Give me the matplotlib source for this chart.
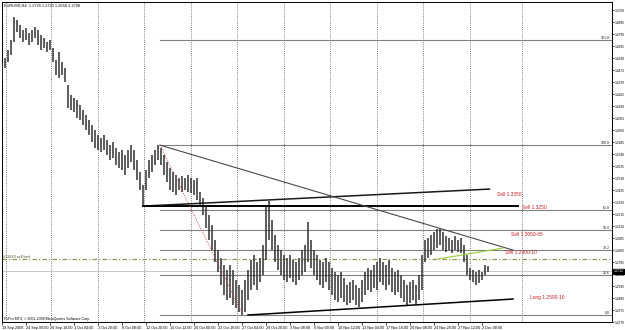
# EURUSD H4 chart with fib levels and trade notes (MT4 style)
import numpy as np
import matplotlib.pyplot as plt
import matplotlib.transforms as mtransforms

plt.rcParams['font.family'] = ['Liberation Sans', 'DejaVu Sans']

# H4 bars, one entry per two bars
highs = [1.4536, 1.4579, 1.4649, 1.4737, 1.4938, 1.4912, 1.4868, 1.4824, 1.4842, 1.4798,
         1.4824, 1.4851, 1.4824, 1.4781, 1.4754, 1.4719, 1.4737, 1.4667, 1.4562, 1.4632,
         1.4544, 1.4492, 1.4343, 1.4256, 1.4229, 1.4212, 1.4168, 1.4124, 1.4081, 1.4037,
         1.3993, 1.3949, 1.3906, 1.3879, 1.3906, 1.3862, 1.3818, 1.3844, 1.3792, 1.3757,
         1.3774, 1.3731, 1.3774, 1.3818, 1.3774, 1.3687, 1.3582, 1.3468, 1.3599, 1.3687,
         1.3731, 1.3774, 1.3818, 1.3792, 1.3731, 1.3669, 1.3617, 1.3582, 1.3556, 1.3529,
         1.3547, 1.3529, 1.3556, 1.3529, 1.3512, 1.3529, 1.3407, 1.3354, 1.3284, 1.3206,
         1.3118, 1.2987, 1.2899, 1.2829, 1.2768, 1.2724, 1.2768, 1.2724, 1.2637, 1.2593,
         1.2549, 1.2637, 1.2724, 1.2812, 1.2856, 1.2794, 1.2829, 1.2943, 1.3293, 1.3328,
         1.3162, 1.3031, 1.2943, 1.2899, 1.2856, 1.2829, 1.2856, 1.2812, 1.2794, 1.2829,
         1.2899, 1.2943, 1.3144, 1.2987, 1.2899, 1.2856, 1.2812, 1.2794, 1.2829, 1.2794,
         1.2742, 1.2707, 1.2681, 1.2707, 1.2654, 1.2593, 1.2619, 1.2637, 1.2593, 1.2567,
         1.2637, 1.2707, 1.2742, 1.2724, 1.2768, 1.2794, 1.2829, 1.2794, 1.2768, 1.2812,
         1.2742, 1.2707, 1.2724, 1.2681, 1.2637, 1.2593, 1.2619, 1.2637, 1.2593, 1.2681,
         1.2856, 1.2987, 1.3004, 1.3031, 1.3057, 1.3083, 1.3092, 1.3057, 1.3022, 1.3004,
         1.2987, 1.3022, 1.2987, 1.3004, 1.2943, 1.2856, 1.2742, 1.2724, 1.2707, 1.2724,
         1.2707, 1.2768, 1.2759]
lows = [1.4387, 1.4492, 1.4544, 1.4606, 1.4719, 1.4807, 1.4754, 1.4719, 1.4737, 1.4693,
        1.4719, 1.4754, 1.4693, 1.4649, 1.4667, 1.4632, 1.4649, 1.4544, 1.4431, 1.4404,
        1.4431, 1.4369, 1.4142, 1.4124, 1.4107, 1.4054, 1.4037, 1.3993, 1.3949, 1.3906,
        1.3844, 1.3792, 1.3774, 1.3757, 1.3774, 1.3731, 1.3687, 1.3704, 1.3643, 1.3617,
        1.3599, 1.3556, 1.3617, 1.3669, 1.3599, 1.3512, 1.3424, 1.3284, 1.3424, 1.3529,
        1.3582, 1.3643, 1.3687, 1.3643, 1.3556, 1.3494, 1.3424, 1.3407, 1.3381, 1.3424,
        1.3407, 1.3424, 1.3407, 1.3398, 1.3381, 1.3337, 1.3293, 1.3206, 1.3092, 1.2987,
        1.2899, 1.2794, 1.2707, 1.2593, 1.2506, 1.2462, 1.2479, 1.2418, 1.2392, 1.2357,
        1.2331, 1.2357, 1.2462, 1.2549, 1.2593, 1.2549, 1.2619, 1.2681, 1.2812, 1.2987,
        1.2899, 1.2794, 1.2724, 1.2681, 1.2637, 1.2619, 1.2654, 1.2619, 1.2593, 1.2637,
        1.2681, 1.2707, 1.2794, 1.2742, 1.2681, 1.2637, 1.2593, 1.2567, 1.2619, 1.2549,
        1.2506, 1.2462, 1.2444, 1.2479, 1.2444, 1.2418, 1.2436, 1.2462, 1.2418, 1.2401,
        1.2444, 1.2506, 1.2549, 1.2532, 1.2567, 1.2549, 1.2619, 1.2593, 1.2549, 1.2593,
        1.2532, 1.2506, 1.2532, 1.2479, 1.2444, 1.2418, 1.2436, 1.2462, 1.2418, 1.2462,
        1.2549, 1.2794, 1.2829, 1.2856, 1.2899, 1.2917, 1.2943, 1.2899, 1.2882, 1.2899,
        1.2873, 1.2899, 1.2882, 1.2873, 1.2794, 1.2681, 1.2637, 1.2619, 1.2593, 1.2611,
        1.2637, 1.2681, 1.2707]

# time axis (bar index -> label)
date_bars = [0, 16, 32, 48, 64, 80, 96, 112, 128, 144, 160, 176, 192, 208, 224, 240,
             256, 272, 288, 304, 320]
date_labels = ['19 Sep 2008', '24 Sep 00:00', '26 Sep 16:00', '1 Oct 04:00', '3 Oct 20:00',
               '8 Oct 08:00', '12 Oct 20:00', '15 Oct 12:00', '20 Oct 00:00', '22 Oct 16:00',
               '27 Oct 04:00', '29 Oct 20:00', '3 Nov 08:00', '6 Nov 00:00', '10 Nov 12:00',
               '13 Nov 04:00', '17 Nov 16:00', '20 Nov 08:00', '24 Nov 20:00', '27 Nov 12:00',
               '2 Dec 00:00']
week_bars = [4, 34, 65, 96, 127, 158, 189, 220, 251, 282, 313, 348]

price_ticks = [1.2270, 1.2375, 1.2480, 1.2585, 1.2690, 1.2795, 1.2900, 1.3005, 1.3110,
               1.3215, 1.3320, 1.3425, 1.3530, 1.3635, 1.3740, 1.3845, 1.3950, 1.4055,
               1.4160, 1.4265, 1.4370, 1.4475, 1.4580, 1.4685, 1.4790, 1.4895, 1.5000]

# fibonacci retracement (low -> high)
fib_low, fib_high = 1.2331, 1.3818
fib_levels = [0.0, 23.6, 38.2, 50.0, 61.8, 100.0, 161.8]
fib_start = 105.3

bid = 1.2712
order_price = 1.2820
order_label = '#12820 sell limit'

# hand drawn objects: (bar, price) pairs
sell_trend = [(94, 1.3284), (325, 1.3433)]
sell_level = [(94, 1.3284), (344, 1.3284)]
down_trend = [(105.3, 1.3818), (340.7, 1.2899)]
fib_base = [(105.3, 1.3818), (160.7, 1.2331)]
long_trend = [(164, 1.2331), (340.7, 1.2471)]
green_line = [(290.7, 1.2821), (334, 1.2917)]

notes = ['Sell 1.3350', 'Sell 1.3250', 'Sell 1.3050-65', 'Sell 1.2900-10', 'Long 1.2500-10']
note_bars = [330, 346.7, 339.3, 335.3, 352]
note_prices = [1.3390, 1.3271, 1.3040, 1.2874, 1.2488]

XMAX = 406.7

fig = plt.figure(figsize=(6.25, 3.3), dpi=100)
ax = fig.add_axes([2 / 625, 8 / 330, 610 / 625, 320 / 330])
ax.set_xlim(0, XMAX)
ax.set_ylim(1.2270, 1.5070)

# week separators
for b in week_bars:
    ax.axvline(b - 1, color='#555555', ls=(0, (1, 1.6)), lw=0.6, zorder=1)

# fib levels
for lvl in fib_levels:
    p = fib_low + lvl / 100 * (fib_high - fib_low)
    ax.plot([fib_start, XMAX], [p, p], color='#808080', lw=0.8, zorder=2)
    ax.text(XMAX - 1.2, p + 0.0003, f'{lvl:.1f}', ha='right', va='bottom',
            fontsize=2.6, color='#202020')

# bid line and order line
ax.axhline(bid, color='#c8c8c8', lw=0.7, zorder=1)
ax.axhline(order_price, color='#8c8c3c', ls=(0, (4, 2, 1, 2)), lw=0.8, zorder=2)
ax.text(0.6, order_price + 0.0004, order_label, fontsize=2.7, color='#505020',
        ha='left', va='bottom')

# price bars
bars = np.arange(len(highs)) * 2
ax.vlines(bars, lows, highs, color='#303030', lw=1.1, zorder=3)

# trend lines
def seg(pts, **kw):
    ax.plot([pts[0][0], pts[1][0]], [pts[0][1], pts[1][1]], zorder=4, **kw)

seg(sell_trend, color='#1a1a1a', lw=1.1)
seg(sell_level, color='black', lw=1.4)
seg(down_trend, color='#4a4a4a', lw=0.8)
seg(fib_base, color='#c04848', lw=0.7, ls=(0, (1, 1.5)))
seg(long_trend, color='black', lw=1.1)
seg(green_line, color='#9acd32', lw=0.8)

for txt, b, p in zip(notes, note_bars, note_prices):
    ax.text(b, p, txt, fontsize=3.5, color='#cc2222', ha='left', va='center')

# header and copyright
ax.text(0.003, 0.995, 'EURUSD,H4  1.2729 1.2733 1.2656 1.2700', transform=ax.transAxes,
        fontsize=2.8, ha='left', va='top', color='black')
ax.text(0.003, 0.004, 'FxPro MT4, \u00a9 2001-2008 MetaQuotes Software Corp.',
        transform=ax.transAxes, fontsize=2.6, ha='left', va='bottom', color='black')

# axes
ax.yaxis.tick_right()
ax.set_yticks(price_ticks)
ax.set_yticklabels([f'{t:.4f}' for t in price_ticks])
ax.tick_params(axis='y', length=1.5, width=0.5, labelsize=2.3, pad=0.5, colors='black')
ax.set_xticks(date_bars, date_labels)
ax.tick_params(axis='x', length=2, width=0.5, labelsize=2.7, pad=0.6)
for t in ax.get_xticklabels():
    t.set_ha('left')
for s in ax.spines.values():
    s.set_linewidth(0.7)
    s.set_color('black')

# current price box on the axis
trans = mtransforms.blended_transform_factory(ax.transAxes, ax.transData)
ax.text(1.002, bid, f'{bid:.4f}', transform=trans, fontsize=2.3, color='white',
        ha='left', va='center', bbox=dict(boxstyle='square,pad=0.2', fc='black', ec='black'),
        clip_on=False)

fig.savefig('out.png', dpi=100)
